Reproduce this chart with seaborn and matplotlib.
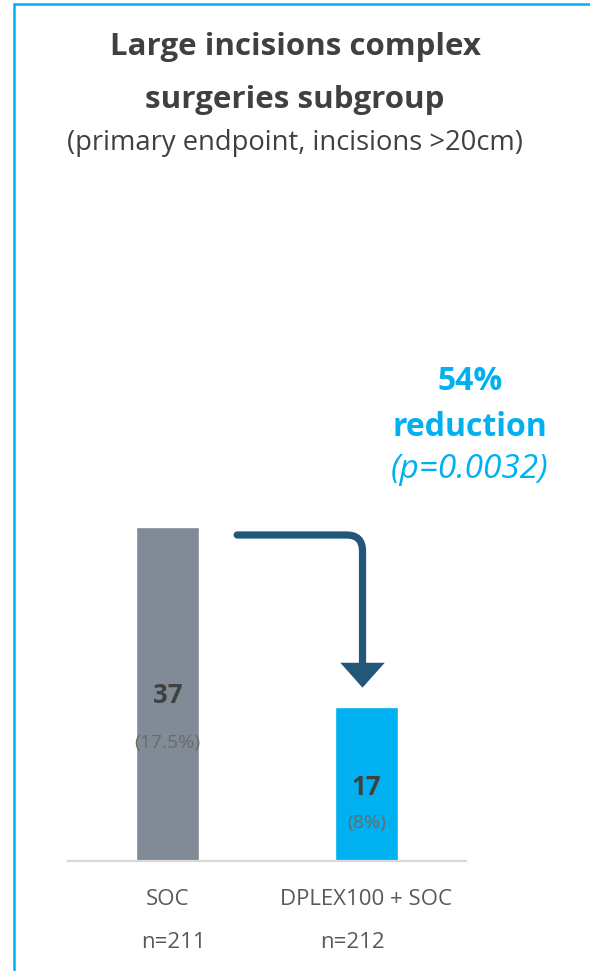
import matplotlib
matplotlib.use("Agg")
import matplotlib.pyplot as plt
import seaborn as sns
import pandas as pd
from matplotlib.lines import Line2D

# ---------------------------------------------------
# Data
# ---------------------------------------------------

groups = ["SOC", "DPLEX100 + SOC"]
events = [37, 17]
event_pct = ["(17.5%)", "(8%)"]
n_labels = ["n=211", "n=212"]
reduction_text = ["54%", "reduction", "(p=0.0032)"]

GRAY_BAR = "#808b97"
BLUE_BAR = "#00b0f0"
ARROW = "#22577a"
DARK_TEXT = "#404040"
MID_TEXT = "#595959"

sns.set_theme(style="white")
plt.rcParams["font.family"] = ["Open Sans", "DejaVu Sans"]

df = pd.DataFrame({"group": groups, "events": events})

# ---------------------------------------------------
# Figure
# ---------------------------------------------------

fig = plt.figure(figsize=(5.9, 9.71), dpi=100)
ax = fig.add_axes([68 / 590, 110 / 971, 398 / 590, 671 / 971])

sns.barplot(
    data=df,
    x="group",
    y="events",
    hue="group",
    palette=[GRAY_BAR, BLUE_BAR],
    saturation=1,
    width=0.317,
    legend=False,
    ax=ax
)

ax.set_xlim(-0.5, 1.5)
ax.set_ylim(0, 74.3)
ax.set_xlabel("")
ax.set_ylabel("")
ax.set_yticks([])
for side in ["top", "right", "left"]:
    ax.spines[side].set_visible(False)
ax.spines["bottom"].set_color("#d9d9d9")
ax.spines["bottom"].set_linewidth(1.6)
ax.tick_params(axis="x", length=0, pad=20, labelsize=16, labelcolor=MID_TEXT)

# n labels under category names
n_offsets = [0.03, -0.07]
for i, lab in enumerate(n_labels):
    ax.text(i + n_offsets[i], -9.0, lab, ha="center", va="center",
            fontsize=16, color=MID_TEXT)

# values inside bars
pct_gap = [5.2, 3.9]
for i, (v, p) in enumerate(zip(events, event_pct)):
    yv = 18.3 if i == 0 else 8.1
    ax.text(i, yv, str(v), ha="center", va="center", fontsize=18.5,
            fontweight="bold", color=DARK_TEXT)
    ax.text(i, yv - pct_gap[i], p, ha="center", va="center", fontsize=14,
            color="#6a6a6a")

# bent arrow from SOC bar to DPLEX bar
ax.annotate(
    "",
    xy=(0.98, events[1] + 2.2),
    xytext=(0.35, events[0] - 0.9),
    arrowprops=dict(
        arrowstyle="-|>,head_length=0.95,head_width=0.85",
        connectionstyle="angle,angleA=0,angleB=90,rad=16",
        color=ARROW,
        lw=5.2,
        shrinkA=0,
        shrinkB=0,
        joinstyle="miter",
    ),
)

# reduction annotation
fig.text(470 / 590, 1 - 382 / 971, reduction_text[0], ha="center", va="center",
         fontsize=23, fontweight="bold", color=BLUE_BAR)
fig.text(470 / 590, 1 - 428 / 971, reduction_text[1], ha="center", va="center",
         fontsize=23, fontweight="bold", color=BLUE_BAR)
fig.text(470 / 590, 1 - 470 / 971, reduction_text[2], ha="center", va="center",
         fontsize=24, fontstyle="italic", color=BLUE_BAR)

# titles
fig.text(0.5, 1 - 47 / 971, "Large incisions complex", ha="center", va="center",
         fontsize=22.5, fontweight="bold", color=DARK_TEXT)
fig.text(0.5, 1 - 100 / 971, "surgeries subgroup", ha="center", va="center",
         fontsize=22.5, fontweight="bold", color=DARK_TEXT)
fig.text(0.5, 1 - 143 / 971, "(primary endpoint, incisions >20cm)", ha="center",
         va="center", fontsize=19.7, color=DARK_TEXT)

# frame lines (left and top)
fig.add_artist(Line2D([14 / 590, 14 / 590], [0, 1 - 4 / 971],
                      color=BLUE_BAR, lw=1.8, transform=fig.transFigure))
fig.add_artist(Line2D([14 / 590, 1], [1 - 4 / 971, 1 - 4 / 971],
                      color=BLUE_BAR, lw=1.8, transform=fig.transFigure))

fig.savefig("out.png", dpi=100)
plt.close(fig)
